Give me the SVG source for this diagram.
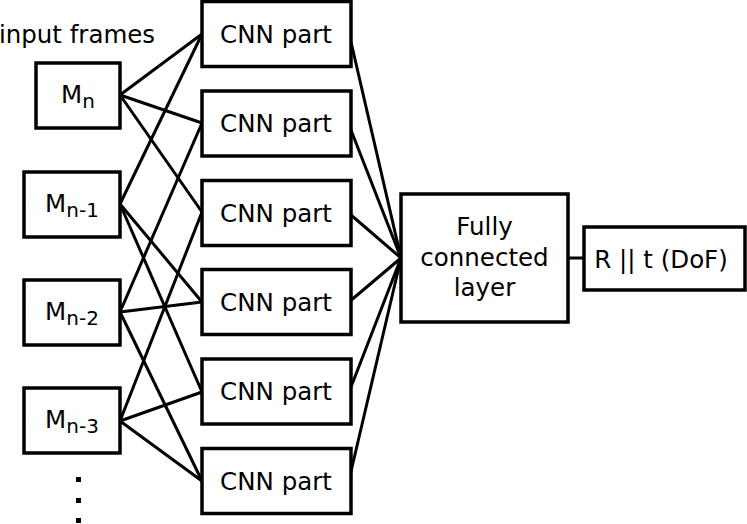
<svg xmlns="http://www.w3.org/2000/svg" width="747" height="524" viewBox="0 0 747 524">
<style>
.box{fill:#fff;stroke:#000;stroke-width:3.5}
.t{font-family:"DejaVu Sans",sans-serif;font-size:24.5px;fill:#000;text-anchor:middle}
.sub{font-size:20px}
#connectors line{stroke:#000;stroke-width:3;stroke-linecap:butt}
</style>
<rect width="747" height="524" fill="#fff"/>
<g id="connectors">
<line x1="120" y1="95" x2="202" y2="34"/>
<line x1="120" y1="95" x2="202" y2="123"/>
<line x1="120" y1="95" x2="202" y2="212"/>
<line x1="120" y1="204" x2="202" y2="34"/>
<line x1="120" y1="204" x2="202" y2="302"/>
<line x1="120" y1="204" x2="202" y2="392"/>
<line x1="120" y1="312" x2="202" y2="123"/>
<line x1="120" y1="312" x2="202" y2="302"/>
<line x1="120" y1="312" x2="202" y2="481"/>
<line x1="120" y1="421" x2="202" y2="212"/>
<line x1="120" y1="421" x2="202" y2="392"/>
<line x1="120" y1="421" x2="202" y2="481"/>
<line x1="351" y1="42" x2="401" y2="258"/>
<line x1="349" y1="125" x2="401" y2="258"/>
<line x1="351" y1="215" x2="401" y2="258"/>
<line x1="349" y1="302" x2="401" y2="258"/>
<line x1="351" y1="387" x2="401" y2="258"/>
<line x1="349" y1="480" x2="401" y2="258"/>
<line x1="568" y1="258" x2="584" y2="258"/>
</g>
<text class="t" x="77" y="43">input frames</text>
<g id="m0"><rect class="box" x="36" y="63" width="84" height="65"/><text class="t" x="78" y="103">M<tspan class="sub" dy="5">n</tspan></text></g>
<g id="m1"><rect class="box" x="24" y="172" width="96" height="65"/><text class="t" x="72" y="212">M<tspan class="sub" dy="5">n-1</tspan></text></g>
<g id="m2"><rect class="box" x="24" y="280" width="96" height="65"/><text class="t" x="72" y="320">M<tspan class="sub" dy="5">n-2</tspan></text></g>
<g id="m3"><rect class="box" x="24" y="388" width="96" height="65"/><text class="t" x="72" y="428">M<tspan class="sub" dy="5">n-3</tspan></text></g>
<g id="dots"><rect x="76" y="477" width="5" height="5"/><rect x="76" y="498" width="5" height="5"/><rect x="76" y="518" width="5" height="5"/></g>
<g id="cnn1"><rect class="box" x="202" y="1.5" width="149" height="65"/><text class="t" x="276" y="42.5">CNN part</text></g>
<g id="cnn2"><rect class="box" x="202" y="91" width="149" height="65"/><text class="t" x="276" y="132">CNN part</text></g>
<g id="cnn3"><rect class="box" x="202" y="180.5" width="149" height="65"/><text class="t" x="276" y="221.5">CNN part</text></g>
<g id="cnn4"><rect class="box" x="202" y="269.5" width="149" height="65"/><text class="t" x="276" y="310.5">CNN part</text></g>
<g id="cnn5"><rect class="box" x="202" y="359" width="149" height="65"/><text class="t" x="276" y="400">CNN part</text></g>
<g id="cnn6"><rect class="box" x="202" y="448.5" width="149" height="65"/><text class="t" x="276" y="489.5">CNN part</text></g>
<g id="fc"><rect class="box" x="401" y="194" width="167" height="128"/><text class="t" x="484.5" y="235">Fully</text><text class="t" x="484.5" y="265.5">connected</text><text class="t" x="484.5" y="296">layer</text></g>
<g id="out"><rect class="box" x="584" y="227" width="161" height="63"/><text class="t" x="661" y="267.5">R || t (DoF)</text></g>
</svg>
